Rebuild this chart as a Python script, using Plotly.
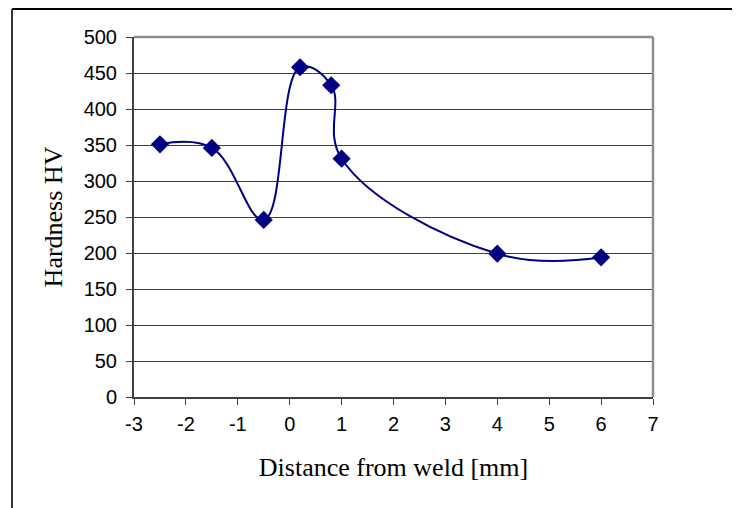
import plotly.graph_objects as go

distance_mm = [-2.5, -1.5, -0.5, 0.2, 0.8, 1.0, 4.0, 6.0]
hardness_hv = [351, 346, 246, 458, 433, 331, 199, 194]

x_ticks = list(range(-3, 8))
y_ticks = list(range(0, 501, 50))

# page has an 8px body margin; figure coordinates are page - 8
W, H = 732, 500
ml, mt = 126, 29
mr = W - (653 - 8)
mb = H - (397 - 8)
pw, ph = W - ml - mr, H - mt - mb

fig = go.Figure()
fig.add_trace(go.Scatter(
    x=distance_mm, y=hardness_hv,
    mode="lines+markers",
    line=dict(color="#000080", width=2, shape="spline", smoothing=1.15),
    marker=dict(symbol="diamond", size=14, color="#000080"),
    showlegend=False,
    cliponaxis=False,
))

fig.update_layout(
    width=W, height=H,
    margin=dict(l=ml, r=mr, t=mt, b=mb, pad=0),
    paper_bgcolor="white", plot_bgcolor="white",
    font=dict(family="Liberation Sans, Arial", size=20, color="black"),
    xaxis=dict(
        range=[-3, 7], tickvals=x_ticks, ticktext=[str(v) for v in x_ticks],
        showgrid=False, zeroline=False,
        showline=True, linecolor="#404040", linewidth=2,
        ticks="outside", ticklen=6, tickcolor="#404040", tickwidth=1,
        ticklabelstandoff=2,
        tickfont=dict(family="Liberation Sans, Arial", size=20),
        title=dict(text="Distance from weld [mm]", standoff=24,
                   font=dict(family="Liberation Serif, Times New Roman", size=26)),
    ),
    yaxis=dict(
        range=[0, 500], tickvals=y_ticks, ticktext=[str(v) for v in y_ticks],
        showgrid=True, gridcolor="#404040", gridwidth=1, zeroline=False,
        showline=True, linecolor="#404040", linewidth=2,
        ticks="outside", ticklen=6, tickcolor="#404040", tickwidth=1,
        ticklabelstandoff=5,
        tickfont=dict(family="Liberation Sans, Arial", size=20),
        title=dict(text="Hardness HV", standoff=14,
                   font=dict(family="Liberation Serif, Times New Roman", size=26)),
    ),
    shapes=[
        # plot area border top/right (gray)
        dict(type="line", xref="paper", yref="paper", x0=0, x1=1, y0=1, y1=1,
             line=dict(color="#8c8c8c", width=2.5)),
        dict(type="line", xref="paper", yref="paper", x0=1, x1=1, y0=0, y1=1,
             line=dict(color="#8c8c8c", width=2.5)),
        # outer chart frame (left and top)
        dict(type="line", xref="paper", yref="paper",
             x0=(4 - ml) / pw, x1=(4 - ml) / pw,
             y0=-(H - mt - ph) / ph - 0.01, y1=1 + (mt - 1) / ph,
             line=dict(color="#333333", width=2)),
        dict(type="line", xref="paper", yref="paper",
             x0=(4 - ml) / pw, x1=(W - ml) / pw + 0.01,
             y0=1 + (mt - 1) / ph, y1=1 + (mt - 1) / ph,
             line=dict(color="black", width=2)),
    ],
)

fig.write_html("out.html")
